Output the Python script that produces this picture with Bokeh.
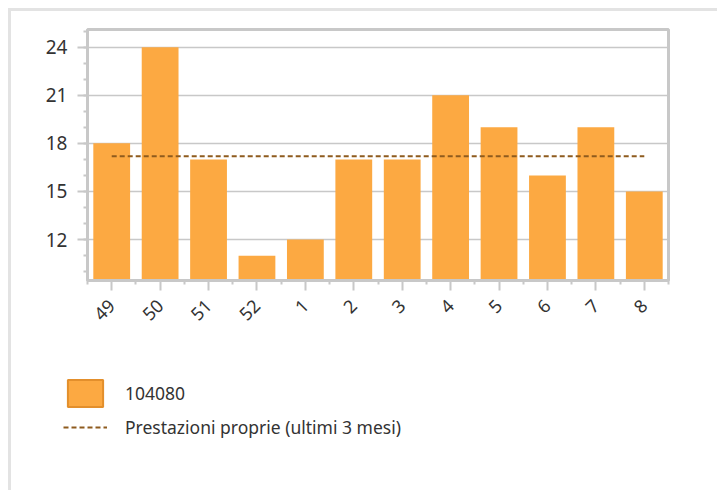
from bokeh.plotting import figure
from bokeh.models import Range1d, FixedTicker, SingleIntervalTicker, Legend, LegendItem
from bokeh.embed import file_html
from bokeh.resources import INLINE

# ---- data ----
weeks = ["49", "50", "51", "52", "1", "2", "3", "4", "5", "6", "7", "8"]
values = [18, 24, 17, 11, 12, 17, 17, 21, 19, 16, 19, 15]
reference = 17.2  # Prestazioni proprie (ultimi 3 mesi)
series_label = "104080"
reference_label = "Prestazioni proprie (ultimi 3 mesi)"

x = [i + 0.5 for i in range(len(weeks))]
ref_values = [reference for _ in weeks]

BAR = "#FCA942"
BAR_EDGE = "#E38F2C"
REF = "#8E5B1E"
GRID = "#C8C8C8"
TEXT = "#333333"
FONT = "Noto Sans"

p = figure(width=717, height=340, output_backend="svg", toolbar_location=None,
           x_range=Range1d(0, len(weeks)), y_range=Range1d(9.45, 25.1),
           min_border_left=87, min_border_right=49, min_border_top=29,
           min_border_bottom=60)
p.styles = {"box-shadow": "inset 8px 8px 0 0 white, inset 11px 11px 0 0 #E3E3E3"}
p.border_fill_alpha = 0
p.background_fill_color = "white"
p.outline_line_color = GRID
p.outline_line_width = 3

bars = p.vbar(x=x, top=values, bottom=0, width=0.76, fill_color=BAR, line_color=None)
ref_line = p.line(x=x, y=ref_values, line_color=REF, line_width=2, line_dash="5 3")

# y axis
p.yaxis.ticker = SingleIntervalTicker(interval=3, num_minor_ticks=3)
p.yaxis.axis_line_color = GRID
p.yaxis.axis_line_width = 3
p.yaxis.major_tick_line_color = GRID
p.yaxis.major_tick_line_width = 2
p.yaxis.major_tick_in = 0
p.yaxis.major_tick_out = 10
p.yaxis.minor_tick_line_color = GRID
p.yaxis.minor_tick_line_width = 2
p.yaxis.minor_tick_in = 0
p.yaxis.minor_tick_out = 4
p.yaxis.major_label_text_font = FONT
p.yaxis.major_label_text_font_size = "19px"
p.yaxis.major_label_text_color = TEXT
p.yaxis.major_label_standoff = 10

# x axis
p.xaxis.ticker = FixedTicker(ticks=x, minor_ticks=list(range(len(weeks) + 1)))
p.xaxis.major_label_overrides = {xi: w for xi, w in zip(x, weeks)}
p.xaxis.major_label_orientation = 0.785398
p.xaxis.axis_line_color = GRID
p.xaxis.axis_line_width = 3
p.xaxis.major_tick_line_color = GRID
p.xaxis.major_tick_line_width = 2
p.xaxis.major_tick_in = 0
p.xaxis.major_tick_out = 10
p.xaxis.minor_tick_line_color = GRID
p.xaxis.minor_tick_line_width = 2
p.xaxis.minor_tick_in = 0
p.xaxis.minor_tick_out = 4
p.xaxis.major_label_text_font = FONT
p.xaxis.major_label_text_font_size = "18px"
p.xaxis.major_label_text_color = TEXT
p.xaxis.major_label_standoff = 12

p.xgrid.grid_line_color = None
p.ygrid.grid_line_color = GRID
p.ygrid.grid_line_width = 1.5

# ---- legend area (separate root, same page) ----
q = figure(width=717, height=150, output_backend="svg", toolbar_location=None,
           x_range=Range1d(0, len(weeks)), y_range=Range1d(9.45, 25.1),
           x_axis_type=None, y_axis_type=None,
           min_border_left=0, min_border_right=0, min_border_top=0, min_border_bottom=0)
q.styles = {"box-shadow": "inset 8px 0 0 0 white, inset 11px 0 0 0 #E3E3E3"}
q.grid.grid_line_color = None
q.outline_line_color = None
q.border_fill_alpha = 0
q.background_fill_alpha = 0

legend_box = q.vbar(x=x, top=values, bottom=0, width=0.76, fill_color=BAR,
                    line_color=BAR_EDGE, line_width=2, visible=False)
legend_line = q.line(x=x, y=ref_values, line_color=REF, line_width=2,
                     line_dash="5 3", visible=False)

legend = Legend(items=[LegendItem(label=series_label, renderers=[legend_box]),
                       LegendItem(label=reference_label, renderers=[legend_line])],
                location=(63, 46), orientation="vertical",
                glyph_width=44, glyph_height=34, spacing=0,
                padding=0, margin=0,
                label_standoff=18, label_text_font=FONT, label_text_font_size="17.5px",
                label_text_color=TEXT,
                border_line_color=None, background_fill_alpha=0)
q.add_layout(legend)

open("out.html", "w").write(file_html([p, q], INLINE))
